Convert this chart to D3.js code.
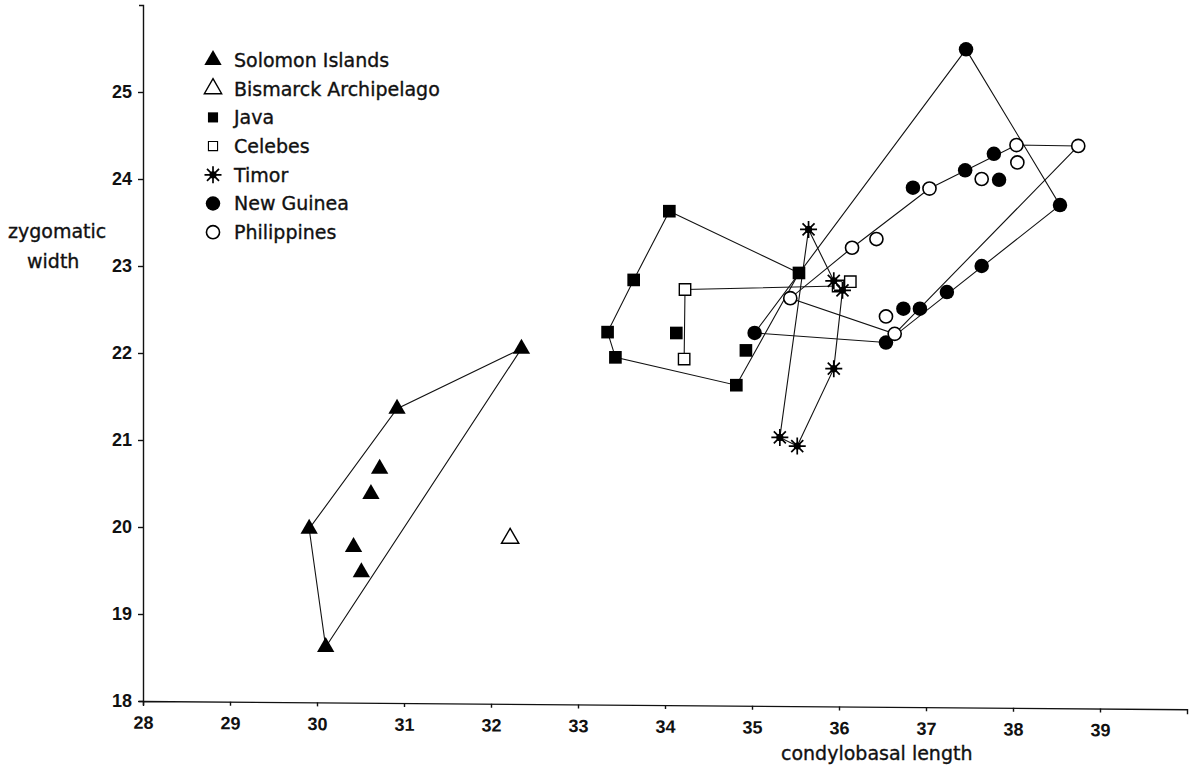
<!DOCTYPE html>
<html>
<head>
<meta charset="utf-8">
<script src="https://cdn.jsdelivr.net/npm/d3@7"></script>
<style>
  body { margin: 0; background: #fff; }
  svg { display: block; }
  .tick text { font-family: "Liberation Sans", Arial, sans-serif; font-weight: bold; font-size: 18px; fill: #111; }
  .lbl { font-family: "DejaVu Sans", sans-serif; font-size: 19px; fill: #111; stroke: #111; stroke-width: 0.35px; }
</style>
</head>
<body>
<script>
// data: [condylobasal length, zygomatic width]
const solomon = [[32.35, 22.05], [30.92, 21.36], [30.72, 20.67], [30.62, 20.38],
  [29.91, 19.98], [30.42, 19.77], [30.51, 19.48], [30.10, 18.62]];
const bismarck = [[32.22, 19.87]];
const java = [[34.05, 23.63], [33.64, 22.84], [33.34, 22.24], [33.43, 21.95],
  [34.13, 22.23], [34.82, 21.63], [34.93, 22.03], [35.54, 22.92]];
const celebes = [[34.23, 22.73], [34.22, 21.93], [35.99, 22.77], [36.13, 22.82]];
const timor = [[35.65, 23.42], [35.94, 22.83], [36.04, 22.72], [35.94, 21.82],
  [35.52, 20.93], [35.32, 21.03]];
const newGuinea = [[37.46, 25.49], [38.54, 23.70], [37.78, 24.29], [37.45, 24.10],
  [37.84, 23.99], [36.85, 23.90], [37.64, 23.00], [37.24, 22.70], [36.93, 22.51],
  [36.74, 22.51], [36.54, 22.12], [35.03, 22.23]];
const philippines = [[38.75, 24.38], [38.04, 24.39], [38.05, 24.19], [37.64, 24.00],
  [37.04, 23.89], [36.43, 23.31], [36.15, 23.21], [35.44, 22.63], [36.54, 22.42],
  [36.64, 22.22]];

// outline polygons (indices into the arrays above)
const solomonHull = [0, 1, 4, 7, 0];
const javaHull = [0, 1, 2, 3, 5, 7, 0];
const celebesLine = [1, 0, 2];
const timorHull = [0, 1, 2, 3, 4, 5, 0];
const newGuineaHull = [0, 1, 10, 11, 0];
const philippinesHull = [0, 1, 4, 6, 7, 9, 0];

const xTicks = [28, 29, 30, 31, 32, 33, 34, 35, 36, 37, 38, 39];
const yTicks = [18, 19, 20, 21, 22, 23, 24, 25];
const legendNames = ["Solomon Islands", "Bismarck Archipelago", "Java", "Celebes",
  "Timor", "New Guinea", "Philippines"];

const W = 1195, H = 775;
const svg = d3.select("body").append("svg")
  .attr("width", W).attr("height", H)
  .style("background", "#fff");

const x = d3.scaleLinear().domain([28, 40]).range([143, 1187]);
const y = d3.scaleLinear().domain([18, 26]).range([701, 5]);

// axes (the scanned x axis sags a little towards the right)
svg.append("g")
  .attr("transform", `translate(143,${y(18)}) skewY(0.45) translate(-143,0)`)
  .call(d3.axisBottom(x).tickValues(xTicks).tickFormat(d3.format("d"))
    .tickSizeInner(4).tickSizeOuter(5).tickPadding(11))
  .call(g => g.selectAll("path, line").attr("stroke", "#111").attr("stroke-width", 1.4));

svg.append("g")
  .attr("transform", `translate(${x(28)},0)`)
  .call(d3.axisLeft(y).tickValues(yTicks).tickFormat(d3.format("d"))
    .tickSizeInner(5).tickSizeOuter(4).tickPadding(6))
  .call(g => g.selectAll("path, line").attr("stroke", "#111").attr("stroke-width", 1.4));

// axis titles
svg.append("text").attr("class", "lbl").attr("x", 8).attr("y", 238).text("zygomatic");
svg.append("text").attr("class", "lbl").attr("x", 27).attr("y", 268).text("width");
svg.append("text").attr("class", "lbl").attr("x", 781).attr("y", 760).text("condylobasal length");

// outline lines
const line = d3.line().x(d => x(d[0])).y(d => y(d[1]));
const outlines = [
  [solomon, solomonHull], [java, javaHull], [celebes, celebesLine],
  [timor, timorHull], [newGuinea, newGuineaHull], [philippines, philippinesHull]
];
svg.append("g").selectAll("path")
  .data(outlines)
  .join("path")
  .attr("d", ([pts, idx]) => line(idx.map(i => pts[i])))
  .attr("fill", "none")
  .attr("stroke", "#111")
  .attr("stroke-width", 1.1);

// marker shapes
const tri = d3.symbol().type(d3.symbolTriangle).size(130)();
const sq = d3.symbol().type(d3.symbolSquare).size(160)();
const sqOpen = d3.symbol().type(d3.symbolSquare).size(130)();
const circ = d3.symbol().type(d3.symbolCircle).size(165)();
const circOpen = d3.symbol().type(d3.symbolCircle).size(135)();
const starPath = (() => {
  const r = 8.5, p = d3.path();
  for (let k = 0; k < 4; k++) {
    const a = k * Math.PI / 4;
    p.moveTo(-r * Math.cos(a), -r * Math.sin(a));
    p.lineTo(r * Math.cos(a), r * Math.sin(a));
  }
  return p.toString();
})();

function drawStar(g) {
  g.append("path").attr("d", starPath).attr("stroke", "#000").attr("stroke-width", 1.7).attr("fill", "none");
  g.append("circle").attr("r", 3.6).attr("fill", "#000");
}

const styles = {
  filledTri: g => g.append("path").attr("d", tri).attr("fill", "#000"),
  openTri: g => g.append("path").attr("d", tri).attr("fill", "#fff").attr("stroke", "#000").attr("stroke-width", 1.4),
  filledSq: g => g.append("path").attr("d", sq).attr("fill", "#000"),
  openSq: g => g.append("path").attr("d", sqOpen).attr("fill", "#fff").attr("stroke", "#000").attr("stroke-width", 1.4),
  star: drawStar,
  filledCirc: g => g.append("path").attr("d", circ).attr("fill", "#000"),
  openCirc: g => g.append("path").attr("d", circOpen).attr("fill", "#fff").attr("stroke", "#000").attr("stroke-width", 1.6)
};

const groups = [
  [solomon, "filledTri"], [bismarck, "openTri"], [java, "filledSq"], [celebes, "openSq"],
  [timor, "star"], [newGuinea, "filledCirc"], [philippines, "openCirc"]
];

groups.forEach(([pts, kind]) => {
  svg.append("g").selectAll("g")
    .data(pts)
    .join("g")
    .attr("transform", d => `translate(${x(d[0])},${y(d[1])})`)
    .each(function () { styles[kind](d3.select(this)); });
});

// legend
const legend = svg.append("g").attr("transform", "translate(213,60)");
const row = legend.selectAll("g")
  .data(groups.map((g, i) => [legendNames[i], g[1]]))
  .join("g")
  .attr("transform", (d, i) => `translate(0,${i * 28.7})`);
row.each(function (d) {
  const g = d3.select(this).append("g");
  styles[d[1]](g);
  if (d[1] === "filledSq" || d[1] === "openSq") g.attr("transform", "scale(0.8)");
});
row.append("text").attr("class", "lbl")
  .attr("x", 21).attr("dy", "0.36em")
  .text(d => d[0]);
</script>
</body>
</html>
